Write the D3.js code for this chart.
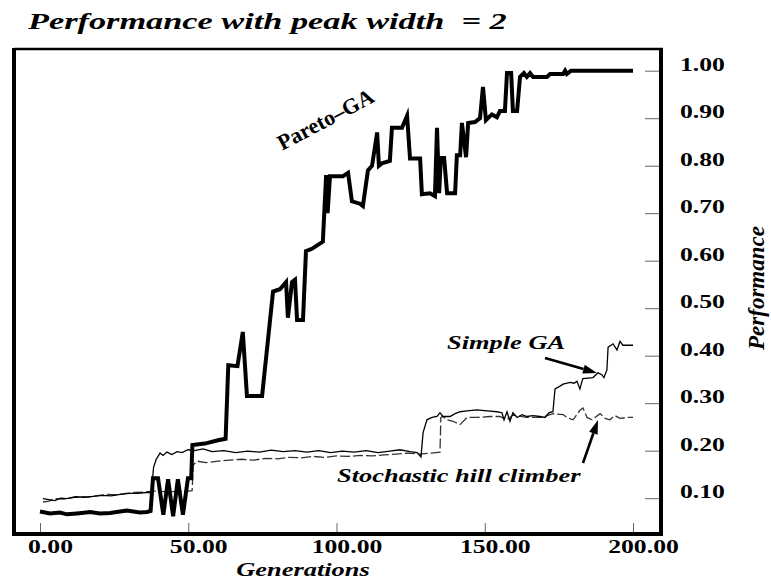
<!DOCTYPE html>
<html>
<head>
<meta charset="utf-8">
<script src="https://cdn.jsdelivr.net/npm/d3@7"></script>
<style>
  html, body { margin: 0; padding: 0; background: #fff; }
  svg { display: block; }
  text { font-family: "Liberation Serif", "Times New Roman", serif; fill: #000; }
</style>
</head>
<body>
<svg id="chart" width="771" height="581"></svg>
<script>
// ---- data -------------------------------------------------------------
const xTicks = [0, 50, 100, 150, 200];
const yTicks = [0.1, 0.2, 0.3, 0.4, 0.5, 0.6, 0.7, 0.8, 0.9, 1.0];

// [generation, performance]
const paretoGA = [
  [0,0.072],[3.4,0.068],[6.7,0.070],[9.1,0.066],[12.5,0.068],[16.9,0.071],[20.2,0.068],
  [23.6,0.069],[27,0.072],[29.3,0.074],[33.7,0.070],[36.1,0.071],[37.3,0.073],[38.1,0.142],
  [39.8,0.142],[41.6,0.065],[43.2,0.140],[44.9,0.062],[46.5,0.140],[48.2,0.065],[49.9,0.142],
  [51.0,0.142],[51.4,0.212],[55.6,0.215],[60,0.222],[62.6,0.225],[63.5,0.380],[66.6,0.378],
  [68.4,0.450],[69.8,0.315],[74.9,0.315],[78.6,0.535],[80.9,0.540],[83,0.555],[83.6,0.480],
  [85,0.555],[86,0.560],[86.7,0.475],[88.7,0.475],[89.7,0.620],[91.7,0.625],[95.4,0.640],
  [96.5,0.780],[97,0.700],[97.8,0.778],[102.2,0.778],[103.9,0.785],[105.2,0.725],[107.9,0.720],
  [108.9,0.715],[110.6,0.790],[112,0.800],[113.7,0.870],[114.3,0.800],[115.3,0.805],[118,0.810],
  [118.7,0.880],[122.1,0.880],[123.8,0.905],[124.8,0.815],[128.2,0.815],[128.8,0.740],
  [131.5,0.742],[133.2,0.736],[133.9,0.880],[134.6,0.742],[135.2,0.816],[136.3,0.816],
  [137.3,0.742],[140,0.742],[140.6,0.822],[141.7,0.822],[142.3,0.890],[143.7,0.818],
  [144.4,0.890],[146.7,0.892],[148.4,0.900],[149.4,0.966],[150.4,0.896],[152.4,0.908],
  [154.1,0.902],[155.1,0.915],[156.8,0.915],[157.5,0.995],[158.9,0.995],[159.5,0.915],
  [160.9,0.915],[161.9,0.987],[163.2,0.995],[164.2,0.987],[165.3,0.995],[166.3,0.987],
  [171,0.987],[172,0.993],[176.4,0.993],[177.1,1.0],[177.7,0.993],[179.1,1.0],[200,1.0]
];

const simpleGA = [
  [1,0.099],[3,0.097],[5,0.095],[7,0.100],[9,0.099],[12,0.103],[15,0.102],[18,0.104],
  [21,0.106],[24,0.105],[27,0.108],[30,0.110],[33,0.110],[36,0.112],[37.6,0.112],[38.3,0.165],
  [39.2,0.182],[40.5,0.195],[41.5,0.190],[42.8,0.197],[44.5,0.192],[46.2,0.198],[47.9,0.196],
  [49.9,0.202],[52,0.200],[55,0.204],[58,0.198],[62,0.200],[66,0.196],[70,0.199],[74,0.197],
  [78,0.201],[82,0.198],[86,0.200],[90,0.197],[94,0.200],[98,0.196],[102,0.199],[106,0.197],
  [110,0.200],[114,0.196],[118,0.199],[121.4,0.202],[124.8,0.198],[127.2,0.196],[128.5,0.187],
  [129.2,0.238],[130.5,0.265],[132.2,0.270],[133.9,0.272],[134.9,0.280],[135.9,0.272],
  [138.3,0.272],[140,0.278],[141.7,0.282],[144,0.284],[147.4,0.286],[150.8,0.284],
  [154.1,0.282],[155.8,0.280],[156.5,0.265],[157.5,0.282],[158.5,0.262],[159.5,0.280],
  [160.9,0.270],[162.6,0.276],[164.2,0.272],[166.3,0.274],[168.6,0.272],[170.3,0.270],
  [171.7,0.280],[173,0.282],[173.4,0.310],[173.7,0.330],[175.4,0.336],[176.4,0.340],
  [178.8,0.344],[180.1,0.342],[181.1,0.346],[182.1,0.330],[182.8,0.346],[183.1,0.352],
  [186.5,0.354],[188.2,0.364],[189.5,0.360],[190.2,0.354],[191.2,0.370],[191.6,0.418],
  [193.3,0.425],[194.6,0.412],[195.6,0.430],[196.6,0.422],[200,0.422]
];

const hillClimber = [
  [1,0.092],[3,0.094],[5,0.099],[8,0.098],[11,0.101],[14,0.103],[17,0.103],[20,0.106],
  [23,0.108],[26,0.107],[29,0.110],[32,0.112],[35,0.113],[38,0.115],[42,0.114],[46,0.114],
  [50,0.115],[51.3,0.116],[51.7,0.170],[53,0.178],[56,0.175],[60,0.178],[64,0.180],[68,0.182],
  [72,0.180],[76,0.184],[80,0.183],[84,0.186],[88,0.185],[92,0.188],[96,0.186],[100,0.189],
  [104,0.188],[108,0.190],[112,0.189],[116,0.191],[120,0.193],[124,0.195],[128,0.193],
  [132,0.195],[134.9,0.197],[135.2,0.270],[135.9,0.272],[137.3,0.265],[139.3,0.262],
  [141.7,0.255],[144,0.270],[147.4,0.270],[151.8,0.272],[155.1,0.272],[157.5,0.265],
  [159.5,0.275],[164.2,0.270],[169.6,0.270],[171,0.274],[173,0.278],[176.4,0.276],
  [177.7,0.270],[179.8,0.265],[182.1,0.285],[183.1,0.290],[184.5,0.270],[186.2,0.265],
  [187.2,0.270],[188.9,0.278],[190.6,0.268],[192.2,0.265],[193.9,0.274],[195.6,0.268],
  [198,0.270],[200,0.270]
];

// ---- layout -----------------------------------------------------------
const svg = d3.select("#chart");
const frame = { left: 14, right: 661, top: 49, bottom: 534 };

const x = d3.scaleLinear().domain([0, 200]).range([40, 633]);
const y = d3.scaleLinear().domain([0.1, 1.0]).range([498.2, 70.7]);

// horizontal widening applied to the typeset labels
const WIDE = 1.39;

function label(str, px, py, o) {
  const t = svg.append("text")
    .attr("transform", `translate(${px},${py}) scale(${o.sx || 1},1) rotate(${o.angle || 0})`)
    .attr("text-anchor", o.anchor || "start")
    .style("font-size", o.size + "px")
    .style("font-weight", o.weight || "bold")
    .style("font-style", o.style || "normal")
    .style("white-space", "pre")
    .text(str);
  return t;
}

// ---- series -----------------------------------------------------------
const line = d3.line().x(d => x(d[0])).y(d => y(d[1]));

svg.append("path").datum(hillClimber)
  .attr("d", line).attr("fill", "none")
  .attr("stroke", "#333").attr("stroke-width", 1.3)
  .attr("stroke-dasharray", "10,3");

svg.append("path").datum(simpleGA)
  .attr("d", line).attr("fill", "none")
  .attr("stroke", "#000").attr("stroke-width", 1.3);

svg.append("path").datum(paretoGA)
  .attr("d", line).attr("fill", "none")
  .attr("stroke", "#000").attr("stroke-width", 4)
  .attr("stroke-linejoin", "miter").attr("stroke-miterlimit", 6);

// ---- axes -------------------------------------------------------------
const fmt = d3.format(".2f");

const yAxis = svg.append("g")
  .attr("transform", `translate(${frame.right},0)`)
  .call(d3.axisRight(y).tickValues(yTicks).tickFormat(fmt)
    .tickSizeInner(-16).tickSizeOuter(0).tickPadding(19));

const xAxis = svg.append("g")
  .attr("transform", `translate(0,${frame.bottom})`)
  .call(d3.axisBottom(x).tickValues(xTicks).tickFormat(fmt)
    .tickSizeInner(-11).tickSizeOuter(0).tickPadding(6));

[yAxis, xAxis].forEach(g => {
  g.select(".domain").remove();
  g.selectAll(".tick line").attr("stroke", "#666").attr("stroke-width", 1);
  g.selectAll(".tick text")
    .attr("fill", "#000")
    .style("font-family", '"Liberation Serif", "Times New Roman", serif')
    .style("font-size", "18.5px")
    .style("font-weight", "bold");
});

yAxis.selectAll(".tick text").each(function () {
  const t = d3.select(this);
  const px = +t.attr("x");
  t.attr("x", 0).attr("dy", "-0.02em")
   .attr("transform", `translate(${px},0) scale(${WIDE},1)`);
});
xAxis.selectAll(".tick text").each(function () {
  const t = d3.select(this);
  const py = +t.attr("y");
  t.attr("y", 0).attr("dy", "0.71em")
   .attr("transform", `translate(10,${py}) scale(${WIDE},1)`);
});

// ---- frame ------------------------------------------------------------
const fr = svg.append("g").attr("stroke", "#000").attr("fill", "none");
fr.append("line").attr("x1", frame.left).attr("x2", frame.right + 2)
  .attr("y1", frame.top).attr("y2", frame.top).attr("stroke-width", 2.5);
fr.append("line").attr("x1", frame.left).attr("x2", frame.left)
  .attr("y1", frame.top - 1).attr("y2", frame.bottom + 2).attr("stroke-width", 4);
fr.append("line").attr("x1", frame.right).attr("x2", frame.right)
  .attr("y1", frame.top - 1).attr("y2", frame.bottom + 2).attr("stroke-width", 4);
fr.append("line").attr("x1", frame.left - 2).attr("x2", frame.right + 2)
  .attr("y1", frame.bottom).attr("y2", frame.bottom).attr("stroke-width", 4);

// ---- titles & annotations --------------------------------------------
label("Performance with peak width  = 2", 28, 29,
  { size: 23.5, style: "italic", sx: 1.46 });
label("Generations", 303, 576,
  { size: 19, style: "italic", sx: WIDE, anchor: "middle" });
label("Performance", 764, 288,
  { size: 23, style: "italic", angle: -90, anchor: "middle" });

label("Pareto\u2013GA", 329, 126,
  { size: 22, angle: -28, anchor: "middle" });
label("Simple GA", 447, 349, { size: 19, style: "italic", sx: WIDE });
label("Stochastic hill climber", 337, 482, { size: 19, style: "italic", sx: WIDE });

// arrows pointing at the two lower curves
function arrow(x1, y1, x2, y2) {
  const a = Math.atan2(y2 - y1, x2 - x1);
  const len = 14, half = 4.5;
  const bx = x2 - len * Math.cos(a), by = y2 - len * Math.sin(a);
  svg.append("line")
    .attr("x1", x1).attr("y1", y1).attr("x2", bx).attr("y2", by)
    .attr("stroke", "#000").attr("stroke-width", 2.6);
  const px = -Math.sin(a), py = Math.cos(a);
  svg.append("path")
    .attr("d", `M${x2},${y2}L${bx + px * half},${by + py * half}L${bx - px * half},${by - py * half}Z`)
    .attr("fill", "#000");
}
arrow(545, 358, 597, 373);
arrow(583, 463, 598, 420);
</script>
</body>
</html>
